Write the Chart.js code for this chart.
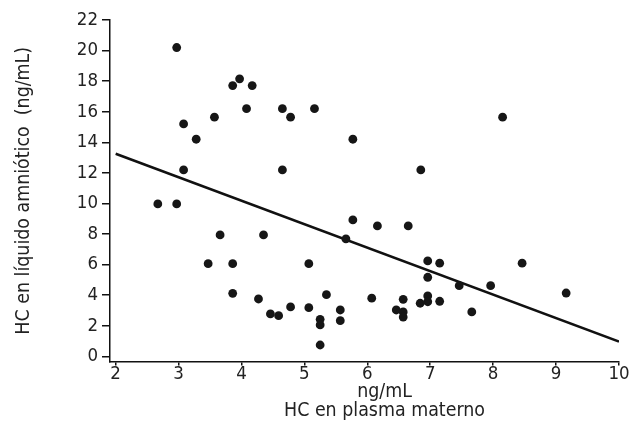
<!DOCTYPE html>
<html>
<head>
<meta charset="utf-8">
<script src="https://cdn.jsdelivr.net/npm/chart.js@4/dist/chart.umd.min.js"></script>
<style>
    body { margin: 0; background: #fff; }
    #grafico { display: block; }
</style>
</head>
<body>
<canvas id="grafico" width="629" height="446"></canvas>
<script>
// HC en plasma materno (eje x) y HC en liquido amniotico (eje y)
var hcPlasma = [2.97, 3.97, 3.86, 4.17, 4.08, 4.65, 4.78, 5.16, 3.57, 3.08,
    3.28, 5.77, 3.08, 4.65, 8.15, 6.85, 2.67, 2.97, 5.77, 5.66,
    3.66, 4.35, 3.47, 3.86, 5.07, 3.86, 4.27, 5.35, 4.46, 4.59,
    4.78, 5.07, 5.25, 5.25, 5.25, 5.57, 5.57, 6.07, 6.16, 6.65,
    6.96, 7.15, 6.96, 7.46, 7.96, 8.46, 9.16, 6.57, 6.96, 6.96,
    6.84, 7.15, 6.46, 6.57, 6.57, 7.66]
var hcAmniotico = [20.2, 18.15, 17.71, 17.71, 16.2, 16.2, 15.64, 16.2, 15.64, 15.2,
    14.2, 14.2, 12.19, 12.19, 15.64, 12.19, 9.97, 9.97, 8.92, 7.68,
    7.94, 7.94, 6.06, 6.06, 6.06, 4.12, 3.75, 4.03, 2.77, 2.66,
    3.23, 3.18, 2.42, 2.05, 0.74, 3.03, 2.33, 3.8, 8.53, 8.53,
    6.24, 6.09, 5.17, 4.62, 4.62, 6.09, 4.14, 3.73, 3.95, 3.57,
    3.47, 3.6, 3.03, 2.9, 2.57, 2.9]

// recta de regresion (extremos)
var rectaX = [2, 10]
var rectaY = [13.25, 0.97]

var ticksX = [2, 3, 4, 5, 6, 7, 8, 9, 10]
var ticksY = [0, 2, 4, 6, 8, 10, 12, 14, 16, 18, 20, 22]

var tituloY = 'HC en líquido amniótico  (ng/mL)'
var tituloX = ['ng/mL', 'HC en plasma materno']

var fuente = "'DejaVu Sans Condensed', 'Liberation Sans Narrow', sans-serif"

function pares(xs, ys) {
    var lista = []
    for (let i = 0; i < xs.length; i++) {
        lista.push({ x: xs[i], y: ys[i] })
    }
    return lista
}

// el titulo del eje x va algo corrido a la derecha en el original
var tituloEjeX = {
    id: 'tituloEjeX',
    afterDraw: (chart) => {
        var ctx = chart.ctx
        var escala = chart.scales.x
        var centro = (escala.left + escala.right) / 2 + 20
        ctx.save()
        ctx.font = '19.4px ' + fuente
        ctx.fillStyle = '#222'
        ctx.textAlign = 'center'
        ctx.textBaseline = 'middle'
        for (let i = 0; i < tituloX.length; i++) {
            ctx.fillText(tituloX[i], centro, 392 + i * 19.4)
        }
        ctx.restore()
    }
}

function criarGrafico() {

    var ctx = document.getElementById('grafico').getContext('2d')

    new Chart(ctx, {
        type: 'scatter',
        data: {
            datasets: [{
                label: 'puntos',
                data: pares(hcPlasma, hcAmniotico),
                backgroundColor: '#161616',
                borderWidth: 0,
                pointRadius: 4.4,
                pointHoverRadius: 4.4
            }, {
                label: 'regresion',
                data: pares(rectaX, rectaY),
                showLine: true,
                borderColor: '#111',
                borderWidth: 2.5,
                pointRadius: 0,
                fill: false
            }]
        },
        options: {
            responsive: false,
            animation: false,
            devicePixelRatio: 1,
            layout: { padding: { top: 20, right: 10, bottom: 0, left: 0 } },
            plugins: {
                legend: { display: false },
                tooltip: { enabled: false }
            },
            scales: {
                x: {
                    type: 'linear',
                    min: 1.91,
                    max: 10,
                    afterBuildTicks: (s) => { s.ticks = ticksX.map(v => ({ value: v })) },
                    afterFit: (s) => { s.height = 84.5 },
                    grid: { drawOnChartArea: false, drawTicks: true, tickLength: 4, color: '#111', lineWidth: 1.5 },
                    border: { display: true, color: '#111', width: 1.5 },
                    ticks: { color: '#222', padding: -2, maxRotation: 0, font: { family: fuente, size: 18.5 } },
                    title: { display: false }
                },
                y: {
                    type: 'linear',
                    min: -0.34,
                    max: 22,
                    afterBuildTicks: (s) => { s.ticks = ticksY.map(v => ({ value: v })) },
                    afterFit: (s) => { s.width = 110 },
                    grid: { drawOnChartArea: false, drawTicks: true, tickLength: 8, color: '#111', lineWidth: 1.5 },
                    border: { display: true, color: '#111', width: 1.5 },
                    ticks: { color: '#222', padding: 4, font: { family: fuente, size: 18.5 } },
                    title: {
                        display: true,
                        text: tituloY,
                        color: '#222',
                        padding: { top: 12, bottom: 0 },
                        font: { family: fuente, size: 19.4, lineHeight: 1.2 }
                    }
                }
            }
        },
        plugins: [tituloEjeX]
    })
}

criarGrafico()
</script>
</body>
</html>
